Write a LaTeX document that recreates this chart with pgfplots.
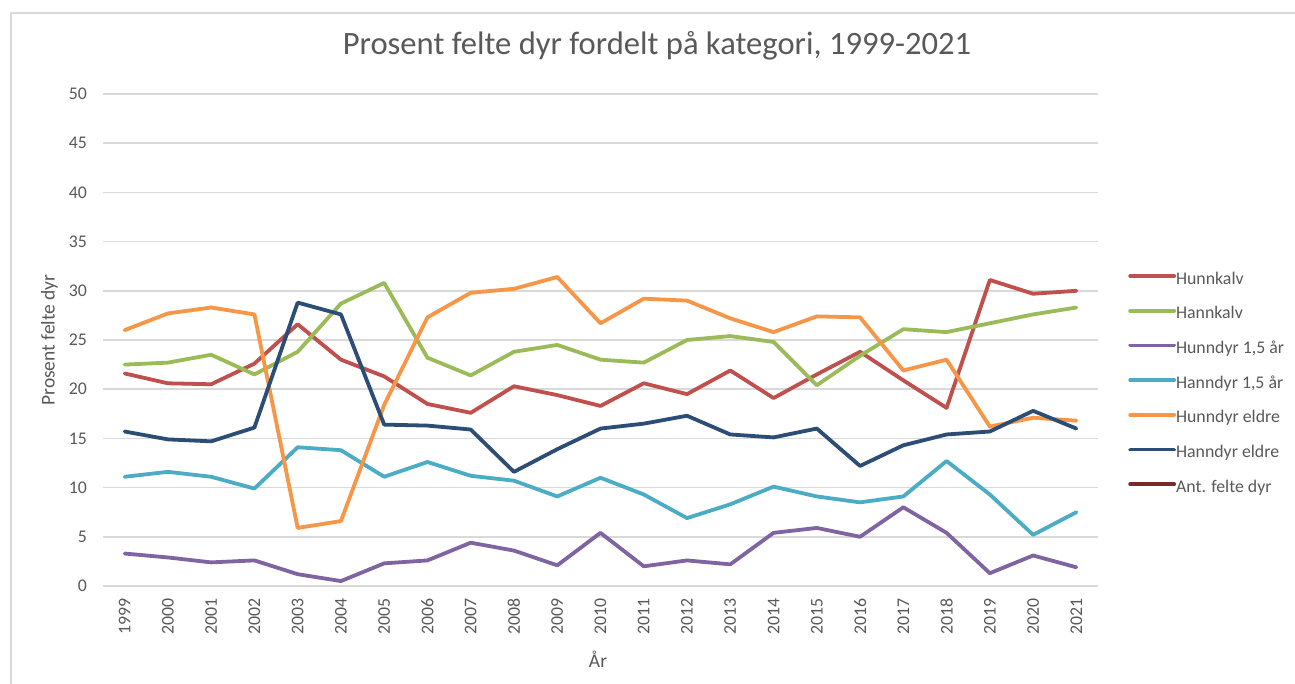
\documentclass[border=0pt]{standalone}
\usepackage{pgfplots}
\pgfplotsset{compat=1.18}
\usepackage{pgfplotstable}
\usepackage{fontspec}
\setmainfont{Carlito}
\definecolor{cred}{HTML}{C0504D}
\definecolor{cgreen}{HTML}{9BBB59}
\definecolor{cpurple}{HTML}{8064A2}
\definecolor{ccyan}{HTML}{4BACC6}
\definecolor{corange}{HTML}{F79646}
\definecolor{cnavy}{HTML}{2C4D75}
\definecolor{cant}{HTML}{772C2A}
\definecolor{gridc}{HTML}{D9D9D9}
\definecolor{txt}{HTML}{595959}
\pgfplotstableread{
year hunnkalv hannkalv hunn15 hann15 hunneldre hanneldre
1999 21.6 22.5 3.3 11.1 26.0 15.7
2000 20.6 22.7 2.9 11.6 27.7 14.9
2001 20.5 23.5 2.4 11.1 28.3 14.7
2002 22.6 21.5 2.6 9.9 27.6 16.1
2003 26.6 23.8 1.2 14.1 5.9 28.8
2004 23.0 28.7 0.5 13.8 6.6 27.6
2005 21.3 30.8 2.3 11.1 18.4 16.4
2006 18.5 23.2 2.6 12.6 27.3 16.3
2007 17.6 21.4 4.4 11.2 29.8 15.9
2008 20.3 23.8 3.6 10.7 30.2 11.6
2009 19.4 24.5 2.1 9.1 31.4 13.9
2010 18.3 23.0 5.4 11.0 26.7 16.0
2011 20.6 22.7 2.0 9.3 29.2 16.5
2012 19.5 25.0 2.6 6.9 29.0 17.3
2013 21.9 25.4 2.2 8.3 27.2 15.4
2014 19.1 24.8 5.4 10.1 25.8 15.1
2015 21.5 20.4 5.9 9.1 27.4 16.0
2016 23.8 23.4 5.0 8.5 27.3 12.2
2017 20.9 26.1 8.0 9.1 21.9 14.3
2018 18.1 25.8 5.4 12.7 23.0 15.4
2019 31.1 26.7 1.3 9.3 16.2 15.7
2020 29.7 27.6 3.1 5.2 17.1 17.8
2021 30.0 28.3 1.9 7.5 16.8 16.0
}\datatable
\begin{document}
\begin{tikzpicture}
\useasboundingbox (-103pt,-98pt) rectangle (1192pt,586pt);
\fill[white] (-103pt,-98pt) rectangle (1192pt,586pt);
\draw[line width=2pt, color=gridc] (-92pt,-98pt) -- (-92pt,573pt) -- (1192pt,573pt);
\begin{axis}[
  at={(0pt,0pt)}, anchor=south west,
  width=995pt, height=492pt, scale only axis,
  xmin=1998.5, xmax=2021.5, ymin=0, ymax=50,
  xtick={1999,2000,...,2021}, ytick={0,5,...,50},
  ymajorgrids, grid style={color=gridc, line width=1.5pt},
  axis line style={draw=none}, major tick length=0pt,
  /pgf/number format/assume math mode=true,
  /pgf/number format/1000 sep={},
  tick label style={font=\fontsize{17.8}{21}\selectfont, color=txt, inner sep=0pt},
  xticklabel style={rotate=90, anchor=east},
  xticklabel shift=12pt,
  yticklabel shift=16pt,
  title={Prosent felte dyr fordelt på kategori, 1999-2021},
  title style={font=\fontsize{32.6}{36}\selectfont, color=txt, at={(axis description cs:0.5568,1.0671)}, anchor=base, inner sep=0pt},
  xlabel={År},
  xlabel style={font=\fontsize{19.5}{23}\selectfont, color=txt, at={(axis description cs:0.4975,-0.1484)}, anchor=center, inner sep=0pt},
  ylabel={Prosent felte dyr},
  ylabel style={font=\fontsize{19.5}{23}\selectfont, color=txt, at={(axis description cs:-0.0538,0.5)}, anchor=center, rotate=0, inner sep=0pt},
  legend style={at={(axis description cs:1.0302,0.6386)}, anchor=north west, draw=none, fill=none, inner sep=0pt, row sep=18.7pt,
    nodes={inner sep=0pt, text height=12pt, text depth=4pt, font=\fontsize{17.8}{21}\selectfont, text=txt}},
  legend cell align=left,
  legend image code/.code={\draw[#1, line width=3.8pt] (0pt,4pt) -- (44pt,4pt);},
  every axis plot/.append style={line width=3.8pt, line join=round, line cap=round},
]
\addplot[color=cred] table[x=year, y=hunnkalv] {\datatable};
\addlegendentry{Hunnkalv}
\addplot[color=cgreen] table[x=year, y=hannkalv] {\datatable};
\addlegendentry{Hannkalv}
\addplot[color=cpurple] table[x=year, y=hunn15] {\datatable};
\addlegendentry{Hunndyr 1,5 år}
\addplot[color=ccyan] table[x=year, y=hann15] {\datatable};
\addlegendentry{Hanndyr 1,5 år}
\addplot[color=corange] table[x=year, y=hunneldre] {\datatable};
\addlegendentry{Hunndyr eldre}
\addplot[color=cnavy] table[x=year, y=hanneldre] {\datatable};
\addlegendentry{Hanndyr eldre}
\addlegendimage{color=cant, line width=3.8pt, line cap=round}
\addlegendentry{Ant. felte dyr}
\end{axis}
\end{tikzpicture}
\end{document}
